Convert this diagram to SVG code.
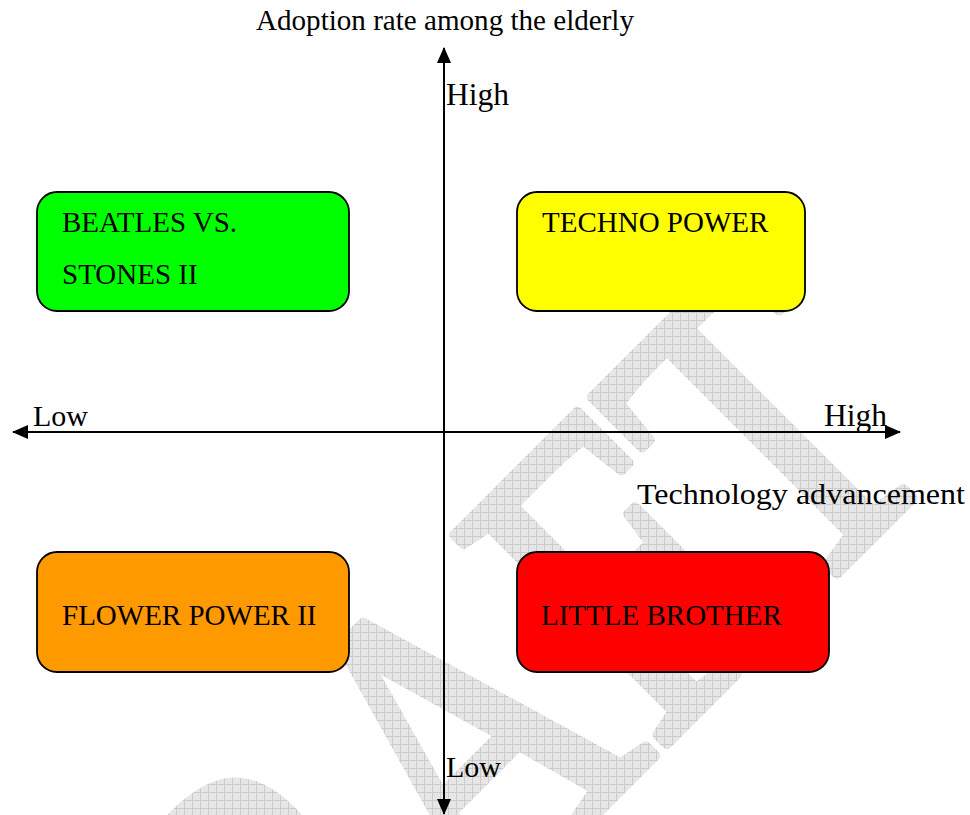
<svg xmlns="http://www.w3.org/2000/svg" width="970" height="815" viewBox="0 0 970 815">
<style>
.t{font-family:"Liberation Serif","Times New Roman",serif;fill:#000;}
.box{stroke:#000;stroke-width:1.8;}
.axis{stroke:#000;stroke-width:2;fill:none;}
</style>
<defs>
<pattern id="grid" width="8" height="8" patternUnits="userSpaceOnUse">
<rect width="8" height="8" fill="#e6e6e6"/>
<path d="M0,0.5 H8 M0.5,0 V8" stroke="#cbcbcb" stroke-width="1"/>
</pattern>
<mask id="wm" maskUnits="userSpaceOnUse" x="0" y="0" width="970" height="815">
<text transform="translate(124,1286) rotate(-45) scale(1,1.27)" x="0" y="0" font-family="Liberation Serif, serif" font-size="357" fill="#fff" stroke="#fff" stroke-width="9" stroke-linejoin="round">DRAFT</text>
</mask>
<marker id="arr" viewBox="0 0 16 14" refX="15" refY="7" markerWidth="16" markerHeight="14" markerUnits="userSpaceOnUse" orient="auto-start-reverse">
<path d="M0,0 L16,7 L0,14 z" fill="#000"/>
</marker>
</defs>
<rect width="970" height="815" fill="#fff"/>
<g id="watermark">
<rect width="970" height="815" fill="url(#grid)" mask="url(#wm)"/>
</g>
<g id="connectors">
<line class="axis" x1="444" y1="48" x2="444" y2="814" marker-start="url(#arr)" marker-end="url(#arr)"/>
<line class="axis" x1="13" y1="432" x2="900" y2="432" marker-start="url(#arr)" marker-end="url(#arr)"/>
</g>
<g id="labels">
<text class="t" x="256" y="30" font-size="29" textLength="378" lengthAdjust="spacingAndGlyphs">Adoption rate among the elderly</text>
<text class="t" x="446" y="105" font-size="31.5">High</text>
<text class="t" x="446" y="777" font-size="30">Low</text>
<text class="t" x="33" y="426" font-size="30">Low</text>
<text class="t" x="824" y="426" font-size="31.5">High</text>
<text class="t" x="637" y="504" font-size="30" textLength="328" lengthAdjust="spacingAndGlyphs">Technology advancement</text>
</g>
<g id="beatles">
<rect class="box" x="37" y="192" width="312" height="119" rx="20" fill="#00ff00"/>
<text class="t" x="62" y="232" font-size="29">BEATLES VS.</text>
<text class="t" x="62" y="284" font-size="29">STONES II</text>
</g>
<g id="techno">
<rect class="box" x="517" y="192" width="288" height="119" rx="20" fill="#ffff00"/>
<text class="t" x="542" y="232" font-size="29">TECHNO POWER</text>
</g>
<g id="flower">
<rect class="box" x="37" y="552" width="312" height="120" rx="20" fill="#ff9900"/>
<text class="t" x="62" y="625" font-size="29">FLOWER POWER II</text>
</g>
<g id="little">
<rect class="box" x="517" y="552" width="312" height="120" rx="20" fill="#ff0000"/>
<text class="t" x="541" y="625" font-size="29">LITTLE BROTHER</text>
</g>
</svg>
